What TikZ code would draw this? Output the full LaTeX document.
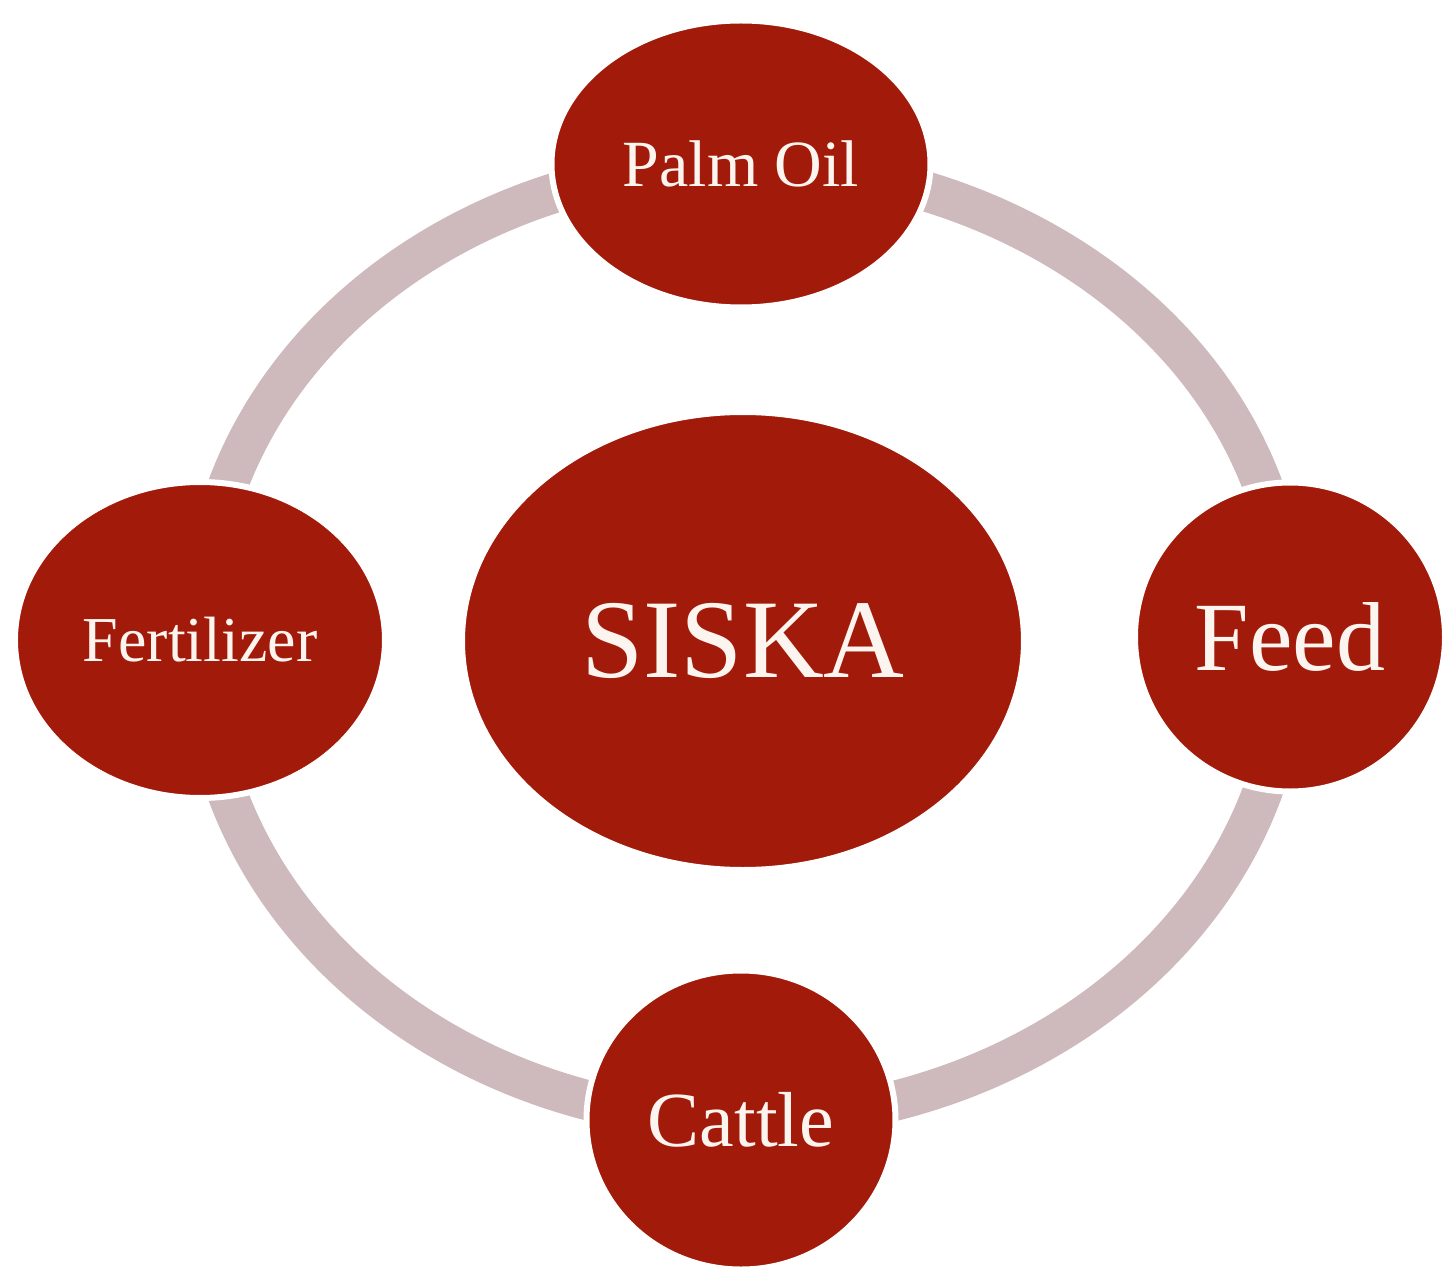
\documentclass[tikz,border=0pt]{standalone}
\usepackage{fontspec}
\setmainfont{Liberation Serif}
\usetikzlibrary{shapes.geometric,backgrounds}
\definecolor{siskared}{RGB}{162,26,10}
\definecolor{ringpink}{RGB}{206,186,188}
\definecolor{cream}{RGB}{252,244,238}
\tikzstyle{bubble}=[ellipse, fill=siskared, draw=white, line width=6pt, text=cream, inner sep=0pt]
\tikzstyle{ring}=[draw=ringpink, line width=40pt]
\newcommand{\bubble}{\node[bubble]}

\begin{document}
\begin{tikzpicture}[x=1pt, y=1pt]
\useasboundingbox (-743,-631) rectangle (705,641);
\bubble[minimum width=562pt, minimum height=458pt, font=\fontsize{112}{120}\selectfont] (siska) at (0,0) {SISKA};
\bubble[minimum width=379pt, minimum height=287pt, font=\fontsize{66}{70}\selectfont] (palm) at (-2,477) {Palm Oil};
\bubble[minimum width=310pt, minimum height=309pt, font=\fontsize{98}{104}\selectfont] (feed) at (547,4) {Feed};
\bubble[minimum width=309pt, minimum height=299pt, font=\fontsize{78}{84}\selectfont] (cattle) at (-2,-479) {Cattle};
\bubble[minimum width=370pt, minimum height=316pt, font=\fontsize{64}{70}\selectfont] (fert) at (-543,1) {Fertilizer};
% ring behind the bubbles
\begin{pgfonlayer}{background}
\draw[ring] (palm.center) to[out=0,in=90] (feed.center)
  to[out=-90,in=0] (cattle.center)
  to[out=180,in=-90] (fert.center)
  to[out=90,in=180] (palm.center);
\end{pgfonlayer}
\end{tikzpicture}
\end{document}
